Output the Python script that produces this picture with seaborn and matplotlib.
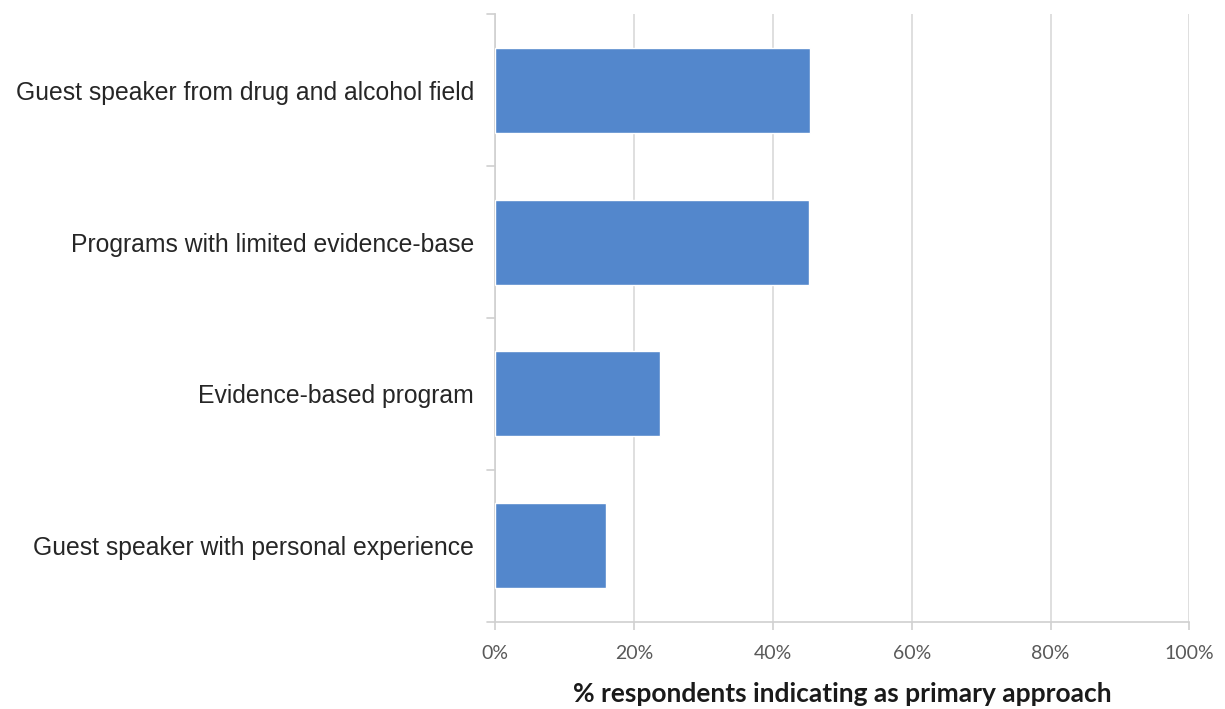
import matplotlib
matplotlib.use("Agg")
import matplotlib.pyplot as plt
import pandas as pd
import seaborn as sns
from matplotlib.ticker import PercentFormatter

categories = [
    "Guest speaker from drug and alcohol field",
    "Programs with limited evidence-base",
    "Evidence-based program",
    "Guest speaker with personal experience",
]
percent_values = [45.4, 45.2, 23.8, 16.0]
x_ticks = [0, 20, 40, 60, 80, 100]

df = pd.DataFrame({"approach": categories, "pct": percent_values})

sns.set_theme(style="white")
plt.rcParams["font.family"] = ["Liberation Sans", "DejaVu Sans"]

fig = plt.figure(figsize=(12.25, 7.09), dpi=100)
ax = fig.add_axes([0.404, 0.123, 0.567, 0.857])

sns.barplot(data=df, x="pct", y="approach", color="#5387cc", width=0.56,
            saturation=1, ax=ax, zorder=3)

ax.set_xlim(0, 100)
ax.set_ylim(3.5, -0.5)
ax.set_xticks(x_ticks)
ax.xaxis.set_major_formatter(PercentFormatter(decimals=0))
ax.grid(axis="x", color="#d9d9d9", linewidth=1.2, zorder=0)

# category ticks sit between the bars
ax.set_yticks(range(len(categories)))
ax.set_yticklabels(categories, fontsize=17.8, color="#262626")
ax.tick_params(axis="y", length=0, pad=15)
for b in [-0.5, 0.5, 1.5, 2.5, 3.5]:
    ax.plot([-1.2, 0], [b, b], color="#d0d0d0", lw=1.2, clip_on=False, zorder=4)

ax.tick_params(axis="x", length=6, width=1.2, color="#d0d0d0", labelsize=14,
               labelcolor="#595959", pad=11, bottom=True)
for lab in ax.get_xticklabels():
    lab.set_family(["Lato", "DejaVu Sans"])

for side in ["top", "right"]:
    ax.spines[side].set_visible(False)
for side in ["left", "bottom"]:
    ax.spines[side].set_color("#d0d0d0")
    ax.spines[side].set_linewidth(1.2)

ax.set_ylabel("")
ax.set_xlabel("% respondents indicating as primary approach", fontsize=19,
              fontweight="bold", color="#1a1a1a", labelpad=14,
              family=["Lato", "DejaVu Sans"])

fig.savefig("out.png", dpi=100)
